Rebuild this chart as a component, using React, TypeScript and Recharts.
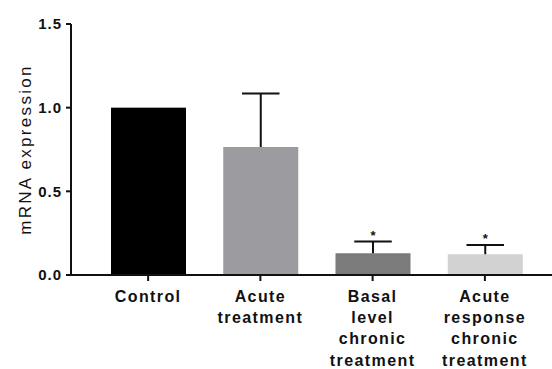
import React from "react";
import { BarChart, Bar, XAxis, YAxis, Cell } from "recharts";

// Relative mRNA expression per group (mean, upper SEM, significance mark)
const categories = ["Control", "Acute treatment", "Basal level chronic treatment", "Acute response chronic treatment"];
const tickLines = [
  ["Control"],
  ["Acute", "treatment"],
  ["Basal", "level", "chronic", "treatment"],
  ["Acute", "response", "chronic", "treatment"],
];
const means = [1.0, 0.765, 0.13, 0.124];
const sems = [0, 0.32, 0.07, 0.056];
const marks = ["", "", "*", "*"];
const barColors = ["#000000", "#9c9ca0", "#7b7b7b", "#d2d2d2"];
const yTicks = [0, 0.5, 1.0, 1.5];

const data = categories.map((name, i) => ({
  name,
  value: means[i],
  error: sems[i],
  mark: marks[i],
  idx: i,
}));

const FONT = "'Liberation Sans', Arial, Helvetica, sans-serif";

// Bar with an upward-only error whisker and optional significance star
const BarWithError = (props: any) => {
  const { x, y, width, height, payload, fill } = props;
  const pxPerUnit = payload.value ? height / payload.value : 0;
  const errTop = y - payload.error * pxPerUnit;
  const cx = x + width / 2;
  const capHalf = width / 4;
  return (
    <g>
      <rect x={x} y={y} width={width} height={height} fill={fill} />
      {payload.error > 0 && (
        <g stroke="#111" strokeWidth={2}>
          <line x1={cx} x2={cx} y1={y} y2={errTop} />
          <line x1={cx - capHalf} x2={cx + capHalf} y1={errTop} y2={errTop} />
        </g>
      )}
      {payload.mark && (
        <text
          x={cx}
          y={errTop - 1.5}
          textAnchor="middle"
          fontFamily={FONT}
          fontWeight="bold"
          fontSize={13}
          fill="#111"
        >
          {payload.mark}
        </text>
      )}
    </g>
  );
};

const CategoryTick = (props: any) => {
  const { x, y, payload } = props;
  const lines = tickLines[payload.index] ?? [payload.value];
  return (
    <g>
      {lines.map((line: string, i: number) => (
        <text
          key={i}
          x={x}
          y={y + 19 + i * 21.2}
          textAnchor="middle"
          fontFamily={FONT}
          fontWeight="bold"
          fontSize={16}
          letterSpacing={1.4}
          fill="#111"
        >
          {line}
        </text>
      ))}
    </g>
  );
};

const YLabel = (props: any) => {
  const { viewBox } = props;
  const cx = viewBox.x + 25;
  const cy = viewBox.y + viewBox.height / 2;
  return (
    <text
      x={cx}
      y={cy}
      transform={`rotate(-90, ${cx}, ${cy})`}
      textAnchor="middle"
      dominantBaseline="central"
      fontFamily={FONT}
      fontSize={17}
      letterSpacing={2.3}
      fill="#111"
    >
      mRNA expression
    </text>
  );
};

export default function App() {
  return (
    <div style={{ position: "absolute", left: 0, top: 0, width: 552, height: 369, background: "#fff" }}>
      <BarChart
        width={552}
        height={369}
        data={data}
        margin={{ top: 24, right: 0, bottom: 0, left: 0 }}
      >
        <XAxis
          dataKey="name"
          height={94}
          padding={{ left: 21, right: 11 }}
          axisLine={{ stroke: "#111", strokeWidth: 2 }}
          tickLine={{ stroke: "#111", strokeWidth: 2 }}
          tickSize={6}
          tickMargin={2}
          tick={<CategoryTick />}
          interval={0}
        />
        <YAxis
          width={71}
          domain={[0, 1.5]}
          ticks={yTicks}
          interval={0}
          tickFormatter={(v: number) => v.toFixed(1)}
          axisLine={{ stroke: "#111", strokeWidth: 2 }}
          tickLine={{ stroke: "#111", strokeWidth: 2 }}
          tickSize={5}
          tickMargin={4}
          tick={{ fontFamily: FONT, fontWeight: "bold", fontSize: 15, fill: "#111", letterSpacing: 1 }}
          label={<YLabel />}
        />
        <Bar dataKey="value" barSize={75} isAnimationActive={false} shape={<BarWithError />}>
          {data.map((d, i) => (
            <Cell key={d.name} fill={barColors[i]} />
          ))}
        </Bar>
      </BarChart>
    </div>
  );
}
